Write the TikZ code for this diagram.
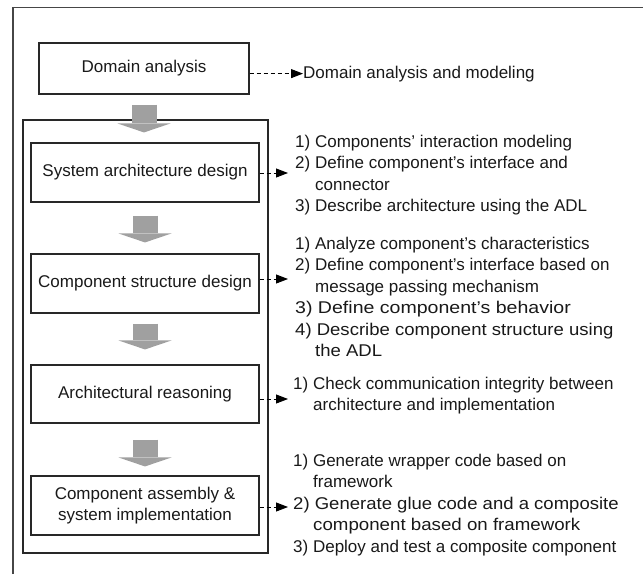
\documentclass[tikz,border=0pt]{standalone}
\usepackage{fontspec}
\setmainfont{Liberation Sans}
\usepackage{graphicx}
\usetikzlibrary{arrows.meta}
\definecolor{arrgray}{RGB}{160,160,160}
\definecolor{framegray}{RGB}{70,70,70}
\definecolor{linegray}{RGB}{40,40,40}
\newcommand\sx[2]{\scalebox{#1}[1]{#2}}
\begin{document}
\begin{tikzpicture}[x=1pt,y=-1pt,
  every node/.style={font=\fontsize{17}{21.5}\selectfont, text=black!90},
  box/.style={draw=linegray, line width=1.1pt, inner sep=0pt, align=center, minimum width=228pt},
  note/.style={anchor=north west, inner sep=0pt, align=left},
  bigarr/.style={line width=25pt, draw=arrgray, -{Triangle[width=53pt,length=9pt,line width=0pt]}},
  smallarr/.style={line width=0.9pt, draw=black, dash pattern=on 4pt off 3pt, -{Triangle[width=9pt,length=12pt]}}
]
\useasboundingbox (0,0) rectangle (643,574);
% outer frame (partly outside the picture)
\draw[line width=1.6pt, framegray] (13,574) -- (13,7.5) -- (643,7.5);
% container
\node[draw=linegray, line width=1.1pt, minimum width=245pt, minimum height=433pt, inner sep=0pt] (cont) at (145.5,336.5) {};
% boxes
\node[box, minimum width=210pt, minimum height=51pt] (dom) at (144,68.5) {Domain analysis};
\node[box, minimum height=59pt] (sys) at (145,172.5) {System architecture design};
\node[box, minimum height=59pt] (comp) at (145,283.5) {Component structure design};
\node[box, minimum height=58pt] (arch) at (145,394) {Architectural reasoning};
\node[box, minimum height=59pt] (asm) at (145,505.5) {Component assembly \&\\system implementation};
% gray flow arrows
\draw[bigarr, shorten <=10pt, shorten >=10pt] (dom.south) -- (dom.south |- sys.north);
\draw[bigarr, shorten <=13pt, shorten >=11pt] (sys.south) -- (comp.north);
\draw[bigarr, shorten <=10pt, shorten >=15pt] (comp.south) -- (arch.north);
\draw[bigarr, shorten <=16pt, shorten >=9pt] (arch.south) -- (asm.north);
% texts
\node[anchor=base west, inner sep=0pt] (dtext) at (303,78) {Domain analysis and modeling};
\node[note] (n1) at (295,134.6) {1) Components’ interaction modeling\\
2) Define component’s interface and\\
\hspace*{20pt}connector\\
3) Describe architecture using the ADL};
\node[note] (n2) at (295,236.6) {1) Analyze component’s characteristics\\
2) Define component’s interface based on\\
\hspace*{20pt}message passing mechanism\\
\sx{1.15}{3) Define component’s behavior}\\
\sx{1.09}{4) Describe component structure using}\\
\hspace*{20pt}\sx{1.09}{the ADL}};
\node[note] (n3) at (293,376.6) {1) Check communication integrity between\\
\hspace*{20pt}architecture and implementation};
\node[note] (n4) at (293,453.6) {1) Generate wrapper code based on\\
\hspace*{20pt}framework\\
\sx{1.09}{2) Generate glue code and a composite}\\
\hspace*{20pt}\sx{1.10}{component based on framework}\\
3) Deploy and test a composite component};
% dashed connectors
\coordinate (a1) at (288,173);
\coordinate (a2) at (288,279);
\coordinate (a3) at (288,399);
\coordinate (a4) at (288,507);
\draw[smallarr] (dom.east |- dtext.west) -- (dtext.west);
\draw[smallarr] (sys.east |- a1) -- (a1);
\draw[smallarr] (comp.east |- a2) -- (a2);
\draw[smallarr] (arch.east |- a3) -- (a3);
\draw[smallarr] (asm.east |- a4) -- (a4);
\end{tikzpicture}
\end{document}
